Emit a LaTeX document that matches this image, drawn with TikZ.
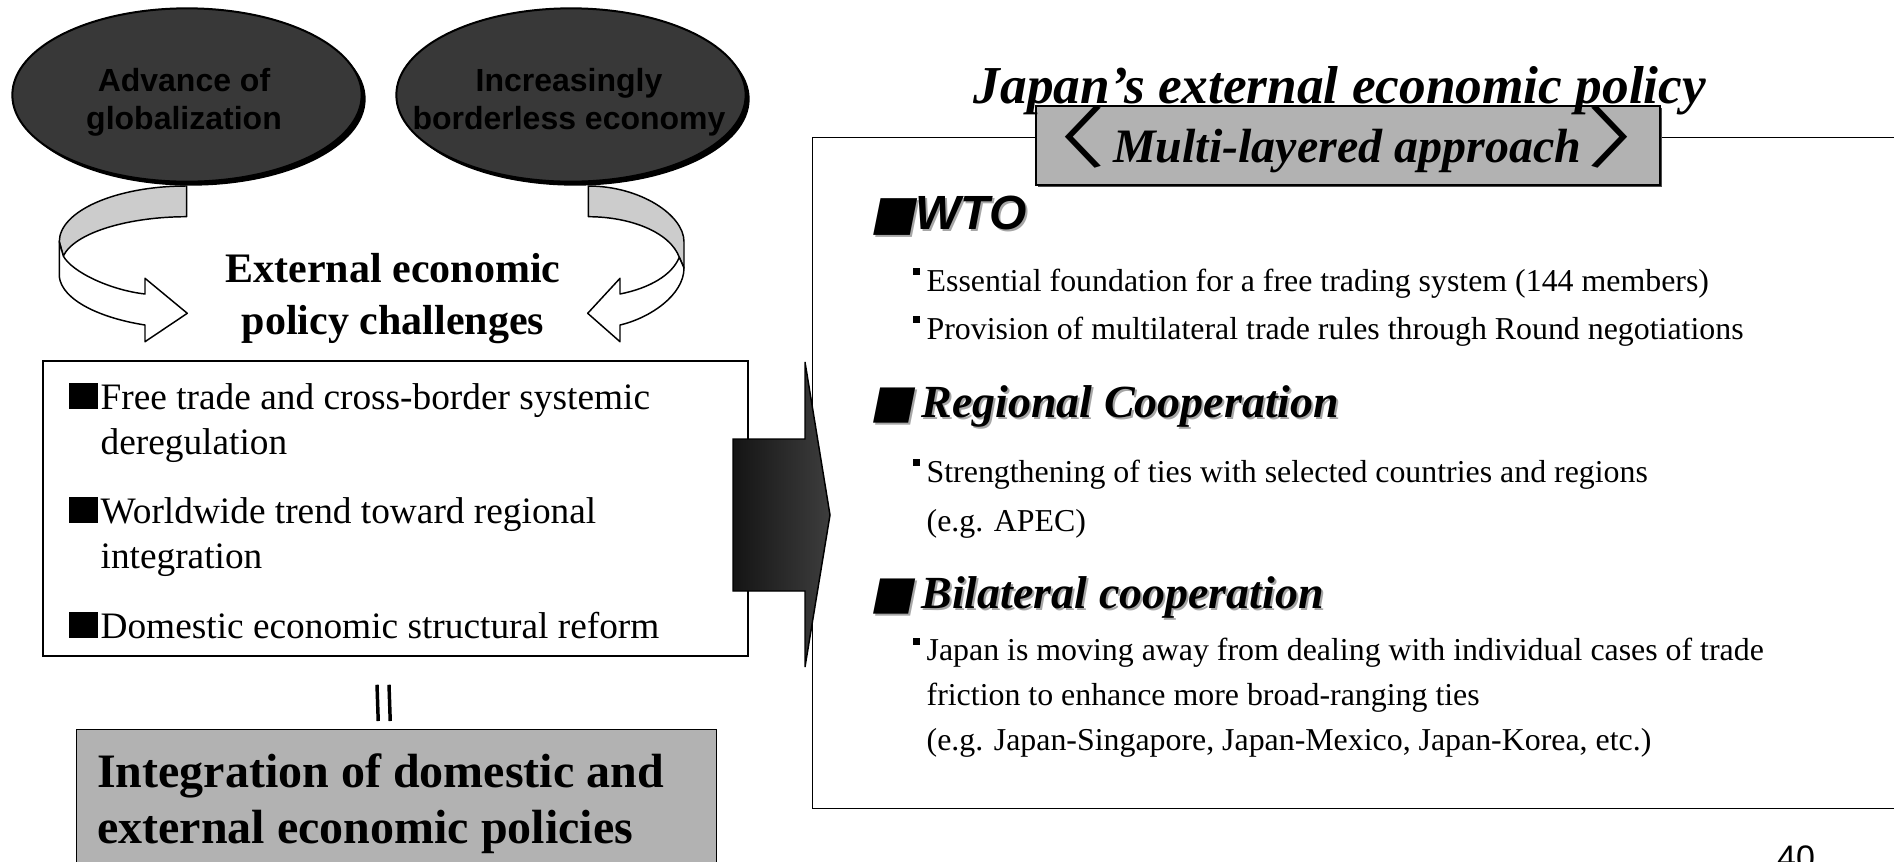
\documentclass[tikz,border=0pt]{standalone}
\usepackage{fontspec}
\usepackage{graphicx}
\setmainfont{Liberation Serif}
\newfontfamily\arialfont{Liberation Sans}
\newfontfamily\cjkfont{Noto Sans CJK JP}
\newfontfamily\sqfont[FakeSlant=0.2]{DejaVu Sans}
\usepackage{tikz}
\usetikzlibrary{shapes.geometric,positioning,calc,shadows}

\newcommand{\blacksq}{\rule{0.76em}{0.7em}\hspace{0.08em}}
\newcommand{\dotsq}{\rule[0.5em]{0.22em}{0.22em}\hspace{0.2em}}
\newcommand{\slsq}{{\sqfont\upshape\mdseries ■}}
\newcommand{\angl}[1]{\scalebox{1.5}[1]{\cjkfont\upshape\mdseries\fontsize{50}{50}\selectfont #1}}

\begin{document}
\begin{tikzpicture}[x=0.75pt, y=-0.75pt,
    blob/.style={ellipse, draw, line width=1.5pt, fill=black!78, minimum width=262pt, minimum height=130pt, inner sep=0pt, drop shadow={shadow xshift=3pt, shadow yshift=-3pt, opacity=1, fill=black}},
    blobtext/.style={align=center, inner sep=0pt, font=\arialfont\bfseries\fontsize{24}{28.5}\selectfont},
    band/.style={draw, line width=1.1pt, line join=round},
    itembox/.style={draw, line width=1.1pt, inner sep=0pt},
    greybox/.style={draw, line width=1.1pt, fill=black!30, inner sep=0pt},
    item/.style={anchor=base west, inner sep=0pt, align=left, font=\fontsize{28}{33.5}\selectfont},
    body/.style={anchor=base west, inner sep=0pt, align=left, font=\fontsize{23.9}{33.5}\selectfont},
    hdr/.style={anchor=base west, inner sep=0pt, font=\bfseries\itshape\fontsize{34.5}{40}\selectfont},
    wto/.style={anchor=base west, inner sep=0pt, font=\arialfont\bfseries\itshape\fontsize{36}{40}\selectfont},
    shade/.style={text=black!35, xshift=1.5pt, yshift=-1.5pt},
    eqbar/.style={line width=2.6pt}
]
\useasboundingbox (0,0) rectangle (1894,861);
\clip (0,0) rectangle (1894,861);

\node[blob] (glob) at (187,95) {};
\node[blob] (bord) at (571,95) {};
\node[blobtext] (globtxt) at ($(glob)+(-3,7)$) {Advance of\\globalization};
\node[blobtext] (bordtxt) at ($(bord)+(-2,7)$) {Increasingly\\borderless economy};

\draw[band, fill=black!20] (186.7,186) -- (186.7,216.7) .. controls (130,216.7) and (75,232) .. (63.3,256) -- (59.3,241.7) .. controls (59.3,211) and (116,186) .. (186.7,186) -- cycle;
\draw[band, fill=white] (59.3,241.7) -- (59.3,276.7) .. controls (62,300) and (100,318) .. (145,325) -- (145,341.7) -- (187.3,313.3) -- (145,278.3) -- (145,294) .. controls (110,290) and (72,272) .. (63.3,256) -- cycle;
\draw[band, fill=black!20] (588.3,186) -- (588.3,216.7) .. controls (630,216.7) and (670,232) .. (679.3,257.3) -- (684,268) -- (684,241.7) .. controls (684,215) and (640,186) .. (588.3,186) -- cycle;
\draw[band, fill=white] (684,268) .. controls (684,295) and (650,318) .. (620,325) -- (620,341.7) -- (587.7,313.3) -- (620,278.3) -- (620,294) .. controls (650,288) and (672,275) .. (679.3,257.3) -- cycle;

\node[font=\bfseries\fontsize{31.5}{39}\selectfont, align=center, anchor=base, inner sep=0pt] (chaltitle) at (393,334) {External economic\\policy challenges};

\node[itembox, minimum width=816pt, minimum height=503.25pt, anchor=north west] (panel) at (812,137) {};
\node[itembox, fill=white, minimum width=528.75pt, minimum height=221.25pt] (chal) at (395.5,508.5) {};
\node[item] (it1) at (69,454) {\blacksq Free trade and cross-border systemic\\\hspace*{0.84em}deregulation};
\node[item] (it2) at (69,568) {\blacksq Worldwide trend toward regional\\\hspace*{0.84em}integration};
\node[item] (it3) at (69,638) {\blacksq Domestic economic structural reform};

\shade[left color=black!92, right color=black!76, draw, line width=1.1pt] (731,437) -- (803,437) -- (803,360) -- (828,513) -- (803,665) -- (803,589) -- (731,589) -- cycle;

\node[greybox, minimum width=468pt, minimum height=59.25pt, drop shadow={shadow xshift=1.5pt, shadow yshift=-1.5pt, opacity=1, fill=black!70}] (multi) at (1348,145.5) {};
\node[font=\bfseries\itshape\fontsize{36}{40}\selectfont, anchor=base, inner sep=0pt] (multitxt) at (1346,162) {\angl{〈}\hspace{0.15em}Multi-layered approach\hspace{0.1em}\angl{〉}};
\node[font=\bfseries\itshape\fontsize{40}{44}\selectfont, anchor=base, inner sep=0pt] (title) at (1340,103) {Japan’s external economic policy};

\node[wto, shade] at (870,229) {\slsq WTO};
\node[wto] (wtohdr) at (870,229) {\slsq WTO};
\node[body] (wto1) at (913,291) {\dotsq Essential foundation for a free trading system (144 members)};
\node[body] (wto2) at (913,339) {\dotsq Provision of multilateral trade rules through Round negotiations};

\node[hdr, shade] at (870,417) {\slsq\,Regional Cooperation};
\node[hdr] (reghdr) at (870,417) {\slsq\,Regional Cooperation};
\node[body] (reg1) at (913,531) {\dotsq Strengthening of ties with selected countries and regions\\[3pt]\hspace*{0.42em}(e.g. APEC)};

\node[hdr, shade] at (870,608) {\slsq\,Bilateral cooperation};
\node[hdr] (bilhdr) at (870,608) {\slsq\,Bilateral cooperation};
\node[body] (bil1) at (913,750) {\dotsq Japan is moving away from dealing with individual cases of trade\\\hspace*{0.42em}friction to enhance more broad-ranging ties\\\hspace*{0.42em}(e.g. Japan-Singapore, Japan-Mexico, Japan-Korea, etc.)};

\node[greybox, minimum width=480pt, minimum height=150pt, anchor=north west] (intg) at (76,729) {};
\node[font=\bfseries\fontsize{36}{42}\selectfont, anchor=base west, align=left, inner sep=0pt] (intgtxt) at (97,843) {Integration of domestic and\\external economic policies};
\draw[eqbar] ($(chal.south)+(-18.5,28)$) -- ($(intg.north)+(-18.5,-8)$);
\draw[eqbar] ($(chal.south)+(-6.5,28)$) -- ($(intg.north)+(-6.5,-8)$);

\node[font=\arialfont\fontsize{25.5}{30}\selectfont, anchor=base, inner sep=0pt] (pgno) at (1796,869) {40};
\end{tikzpicture}
\end{document}
